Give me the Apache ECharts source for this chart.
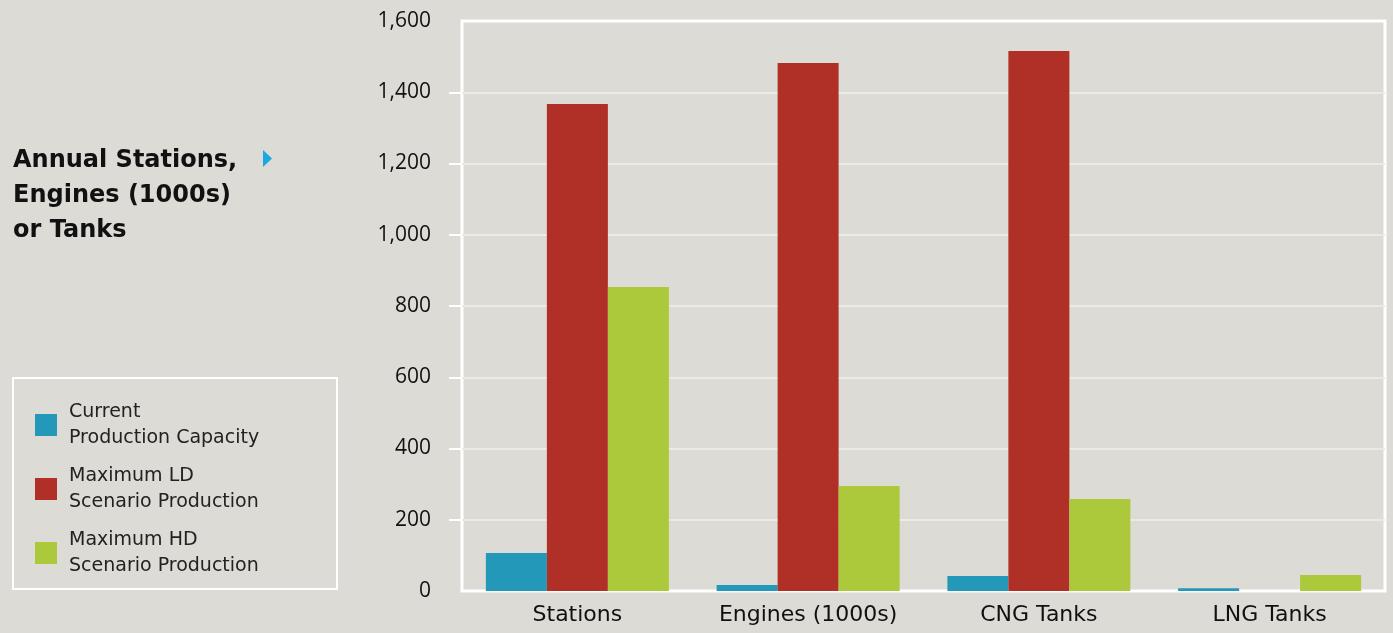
<!DOCTYPE html>
<html>
<head>
<meta charset="utf-8">
<script src="https://cdn.jsdelivr.net/npm/echarts@6/dist/echarts.min.js"></script>
<style>
  html, body { margin: 0; padding: 0; background: #dcdbd5; }
  #chart { width: 1393px; height: 633px; }
</style>
</head>
<body>
<div id="chart"></div>
<script>
// categories and values
const categories = ['Stations', 'Engines (1000s)', 'CNG Tanks', 'LNG Tanks'];
const currentCapacity = [107, 17, 42, 8];
const maxLD = [1367, 1482, 1516, 0];
const maxHD = [853, 295, 258, 45];
const yTicks = [200, 400, 600, 800, 1000, 1200, 1400];

const wordFont = 'DejaVu Sans';   // wide, close to the tracked-out original
const numFont = 'Open Sans';      // narrower digits for the value axis
const chart = echarts.init(document.getElementById('chart'));

const option = {
  backgroundColor: '#dcdbd5',
  color: ['#2398b8', '#b02f26', '#abc93a'],
  textStyle: { fontFamily: wordFont },
  title: {
    text: 'Annual Stations,\nEngines (1000s)\nor Tanks',
    left: 8,
    top: 138,
    textStyle: {
      fontFamily: wordFont,
      fontSize: 24,
      fontWeight: 'bold',
      color: '#111',
      lineHeight: 35
    }
  },
  legend: {
    orient: 'vertical',
    left: 30,
    top: 394,
    itemWidth: 22,
    itemHeight: 22,
    itemGap: 12,
    icon: 'rect',
    textStyle: {
      fontFamily: wordFont,
      fontSize: 19,
      lineHeight: 26,
      color: '#222',
      padding: [0, 0, 0, 7]
    },
    data: ['Current\nProduction Capacity', 'Maximum LD\nScenario Production', 'Maximum HD\nScenario Production']
  },
  graphic: [
    {
      // legend frame
      type: 'rect',
      shape: { x: 13, y: 378, width: 324, height: 211 },
      style: { fill: 'none', stroke: '#ffffff', lineWidth: 2 }
    },
    {
      // small blue arrow next to the axis title
      type: 'polygon',
      shape: { points: [[263, 150], [272, 158.5], [263, 167]] },
      style: { fill: '#1aa8e2' }
    }
  ],
  grid: {
    left: 462,
    right: 8,
    top: 21,
    bottom: 42,
    show: true,
    borderColor: '#ffffff',
    borderWidth: 3,
    backgroundColor: 'transparent'
  },
  xAxis: {
    type: 'category',
    data: categories,
    axisLine: { show: false },
    axisTick: { show: false },
    axisLabel: {
      interval: 0,
      fontFamily: wordFont,
      fontSize: 22,
      color: '#111',
      margin: 13
    }
  },
  yAxis: {
    type: 'value',
    min: 0,
    max: 1600,
    interval: 200,
    axisLine: { show: false },
    axisTick: {
      show: true,
      customValues: yTicks,
      length: 13,
      lineStyle: { color: '#ffffff', width: 2 }
    },
    splitLine: { lineStyle: { color: '#ebebe6', width: 2 } },
    axisLabel: {
      fontFamily: numFont,
      fontSize: 21,
      color: '#111',
      margin: 31,
      formatter: v => v.toLocaleString('en-US')
    }
  },
  series: [
    {
      name: 'Current\nProduction Capacity',
      type: 'bar',
      data: currentCapacity,
      barWidth: 61,
      barGap: '0%'
    },
    {
      name: 'Maximum LD\nScenario Production',
      type: 'bar',
      data: maxLD,
      barWidth: 61,
      barGap: '0%'
    },
    {
      name: 'Maximum HD\nScenario Production',
      type: 'bar',
      data: maxHD,
      barWidth: 61,
      barGap: '0%'
    }
  ]
};

chart.setOption(option);
</script>
</body>
</html>
